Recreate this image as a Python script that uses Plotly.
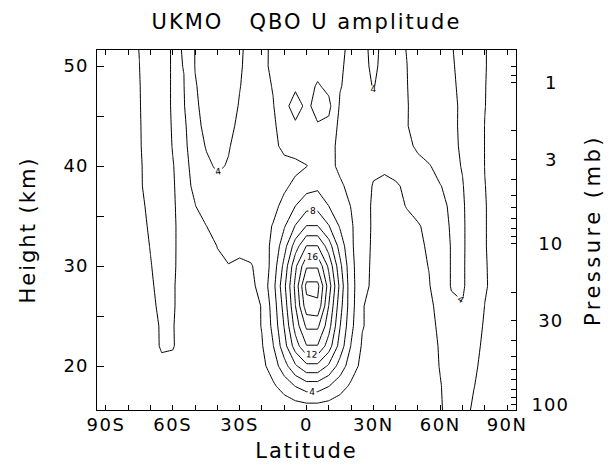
import numpy as np
import plotly.graph_objects as go

# ---------------- data ----------------
lats = [-90, -85, -80, -75, -70, -65, -60, -55, -50, -45, -40, -35, -30, -25, -20, -15, -10, -5,
        0, 5, 10, 15, 20, 25, 30, 35, 40, 45, 50, 55, 60, 65, 70, 75, 80, 85, 90]

# heights (km), listed from top to bottom
heights_top_down = [52, 50, 48, 46, 44, 42, 40, 38, 36, 34, 32, 30, 28, 26, 24, 22, 20, 18, 15.6]

# QBO U amplitude (m/s), one row per height (top to bottom), one column per latitude
amp_top_down = [
    [1.5,1.6,1.75,2.02,2.6,2.6,1.85,2.05,4.05,4.5,4.6,4.6,4.3,3.4,3.6,4.3,4.5,4.6,4.8,5.0,4.7,4.3,3.7,3.5,4.5,3.5,3.6,4.05,4.6,4.6,4.5,4.1,3.4,2.8,2.05,1.7,1.5],
    [1.5,1.6,1.75,1.99,2.6,2.6,1.85,2.02,4.05,4.5,4.6,4.6,4.2,3.4,3.5,4.4,4.6,4.8,5.0,5.3,4.9,4.2,3.6,3.4,4.4,3.4,3.5,3.98,4.6,4.7,4.6,4.2,3.5,2.8,2.05,1.7,1.5],
    [1.5,1.6,1.75,1.95,2.6,2.6,1.85,1.97,3.9,4.5,4.6,4.6,4.05,3.5,3.4,4.1,4.7,5.6,5.3,6.2,5.5,4.1,3.5,3.3,4.1,3.3,3.4,3.95,4.6,4.8,4.7,4.3,3.6,2.8,2.03,1.7,1.5],
    [1.5,1.6,1.75,1.93,2.6,2.6,1.85,1.89,3.7,4.6,4.6,4.6,3.9,3.4,3.3,3.9,5.3,7.0,5.5,6.8,6.5,3.8,3.4,3.2,3.6,3.2,3.3,3.9,4.6,4.8,4.7,4.4,3.7,2.8,2.02,1.7,1.5],
    [1.5,1.6,1.75,1.9,2.6,2.6,1.9,1.65,3.4,4.5,4.6,4.5,3.6,3.3,3.2,3.7,4.8,5.6,5.2,5.8,5.5,3.5,3.3,3.1,3.3,3.1,3.2,3.93,4.5,4.8,4.7,4.5,3.6,2.8,1.98,1.7,1.5],
    [1.5,1.6,1.75,1.88,2.6,2.6,1.95,1.5,3.2,4.1,4.6,4.1,3.5,3.2,3.1,3.5,4.5,4.7,4.8,5.0,4.8,3.4,3.2,3.0,3.0,3.0,3.2,3.6,4.3,4.7,4.7,4.5,3.7,2.8,1.98,1.7,1.5],
    [1.5,1.6,1.75,1.8,2.6,2.6,2.05,1.5,2.6,3.7,4.2,3.9,3.4,3.1,3.1,3.2,3.4,3.6,3.95,4.6,4.7,3.5,3.1,2.9,2.3,2.15,2.3,3.0,3.5,3.9,4.5,4.5,3.9,2.9,1.98,1.7,1.5],
    [1.5,1.6,1.75,1.78,2.6,2.6,2.1,1.5,2.3,3.2,3.6,3.5,3.2,3.0,3.1,3.3,3.7,4.4,5.2,5.6,5.3,4.4,3.3,2.7,1.9,1.8,1.9,2.15,2.8,3.2,3.95,4.4,4.1,2.9,2.02,1.7,1.5],
    [1.5,1.6,1.75,1.7,2.3,2.5,2.15,1.5,1.95,2.8,3.2,3.2,3.0,3.0,3.1,3.5,4.5,6.0,7.3,7.3,6.0,4.8,3.95,2.9,1.7,1.6,1.7,2.05,2.4,2.8,3.5,4.3,4.25,2.9,2.05,1.7,1.5],
    [1.5,1.6,1.75,1.65,2.15,2.5,2.2,1.5,1.5,1.98,2.6,2.8,2.8,2.9,3.3,4.1,5.8,8.1,10.05,10.05,8.1,5.8,4.2,3.0,1.7,1.5,1.5,1.7,1.9,2.3,3.2,4.2,4.3,2.9,2.05,1.7,1.5],
    [1.5,1.6,1.75,1.6,2.04,2.45,2.2,1.5,1.5,1.6,2.02,2.4,2.3,2.5,3.2,4.4,7.2,11.0,14.05,14.05,11.0,7.2,4.3,2.8,1.7,1.5,1.4,1.5,1.7,2.2,3.0,4.1,4.3,2.9,2.05,1.7,1.5],
    [1.5,1.6,1.7,1.6,1.95,2.4,2.15,1.6,1.5,1.5,1.85,1.95,1.8,1.9,2.5,4.8,8.6,13.55,17.7,17.7,13.55,8.6,4.5,2.8,1.6,1.5,1.4,1.5,1.6,2.05,3.0,4.1,4.3,2.8,2.08,1.7,1.5],
    [1.5,1.6,1.7,1.6,1.85,2.35,2.1,1.6,1.4,1.4,1.5,1.5,1.5,1.6,2.6,5.3,9.5,14.5,20.6,20.6,15.0,9.5,4.6,2.8,1.5,1.5,1.4,1.5,1.55,1.9,3.0,4.1,4.3,2.8,2.1,1.7,1.5],
    [1.5,1.55,1.6,1.6,1.75,2.25,2.1,1.6,1.4,1.4,1.4,1.4,1.4,1.2,2.1,4.8,8.8,13.95,19.2,19.6,13.95,8.8,4.8,2.1,1.5,1.5,1.4,1.5,1.5,1.8,2.3,3.7,3.9,2.8,1.98,1.6,1.5],
    [1.5,1.5,1.55,1.6,1.7,2.1,2.05,1.6,1.4,1.4,1.4,1.4,1.3,1.1,2.1,4.5,8.1,12.8,16.4,16.4,12.8,8.1,4.5,2.1,1.5,1.4,1.4,1.5,1.5,1.7,2.2,3.2,3.4,2.6,1.85,1.6,1.4],
    [1.4,1.45,1.5,1.55,1.65,2.1,2.05,1.7,1.4,1.3,1.3,1.3,1.2,1.0,1.85,3.9,7.2,11.0,13.9,13.9,11.0,7.2,3.9,1.8,1.4,1.3,1.3,1.4,1.5,1.6,2.1,2.8,3.0,2.45,1.7,1.5,1.4],
    [1.4,1.4,1.45,1.5,1.6,1.8,1.8,1.6,1.4,1.3,1.3,1.2,1.1,1.0,1.5,2.9,5.2,7.7,9.5,9.5,7.7,5.2,2.9,1.5,1.3,1.2,1.2,1.3,1.4,1.6,2.05,2.6,2.7,2.3,1.5,1.4,1.3],
    [1.3,1.3,1.35,1.4,1.5,1.6,1.6,1.5,1.3,1.2,1.2,1.1,1.0,0.9,1.2,1.7,2.8,4.07,5.0,5.0,4.07,2.8,1.7,1.2,1.1,1.1,1.1,1.2,1.3,1.5,1.95,2.4,2.6,2.05,1.5,1.4,1.3],
    [1.2,1.2,1.25,1.3,1.4,1.5,1.5,1.4,1.2,1.1,1.1,1.0,0.9,0.8,0.5,0.5,0.6,0.7,0.8,0.8,0.7,0.6,0.5,0.6,0.8,1.0,1.0,1.1,1.2,1.4,1.9,2.4,2.5,1.8,1.4,1.3,1.2],
]

lat_tickvals = [-90, -80, -70, -60, -50, -40, -30, -20, -10, 0, 10, 20, 30, 40, 50, 60, 70, 80, 90]
lat_ticktext = ['90S', '', '', '60S', '', '', '30S', '', '', '0', '', '', '30N', '', '', '60N', '', '', '90N']
h_tickvals = [20, 25, 30, 35, 40, 45, 50]
h_ticktext = ['20', '', '30', '', '40', '', '50']
p_ticks = [100, 90, 80, 70, 60, 50, 40, 30, 20, 10, 9, 8, 7, 6, 5, 4, 3, 2, 1, 0.9, 0.8]
p_labels = {100: '100', 30: '30', 10: '10', 3: '3', 1: '1'}
scale_height = 7.0  # km

# ---------------- figure ----------------
heights = heights_top_down[::-1]
amp = amp_top_down[::-1]

FONT = "DejaVu Sans"


def spaced(text, px):
    return '<span style="letter-spacing:%gpx">%s</span>' % (px, text) if text else ''


def centered(text, width):
    pad = '\u00a0' * (width - len(text))
    return spaced(pad + text, 1) if text else ''


fig = go.Figure()

common = dict(x=lats, y=heights, z=amp, showscale=False, hoverinfo='skip',
              line=dict(color='black', width=1, smoothing=0))
fig.add_trace(go.Contour(**common, autocontour=False,
                         contours=dict(start=2, end=18, size=4, coloring='none', showlabels=False)))
fig.add_trace(go.Contour(**common, autocontour=False,
                         contours=dict(start=4, end=16, size=4, coloring='none', showlabels=True,
                                       labelfont=dict(size=9, color='black', family=FONT))))
fig.add_trace(go.Contour(**common, autocontour=False,
                         contours=dict(start=20, end=20.5, size=4, coloring='none', showlabels=False)))

p_heights = [scale_height * np.log(1000.0 / p) for p in p_ticks]
p_text = [centered(p_labels[p], 3) if p in p_labels else '' for p in p_ticks]
fig.add_trace(go.Scatter(x=[0], y=[30], yaxis='y2', mode='markers',
                         marker=dict(opacity=0), hoverinfo='skip', showlegend=False))

yr = [15.6, 51.6]
fig.update_layout(
    width=613, height=471,
    margin=dict(l=97, r=92, t=50, b=61),
    paper_bgcolor='white', plot_bgcolor='white',
    showlegend=False,
    font=dict(family=FONT, size=18, color='black'),
    title=dict(text=spaced('UKMO   QBO U amplitude', 2), x=0.5, xanchor='center',
               y=0.953, yanchor='middle',
               font=dict(size=21, family=FONT, color='black')),
    xaxis=dict(range=[-94, 94], tickmode='array', tickvals=lat_tickvals,
               ticktext=[spaced(t, 1.5) for t in lat_ticktext],
               ticks='inside', ticklen=5, tickwidth=1, tickcolor='black',
               showline=True, linecolor='black', linewidth=1, mirror='ticks',
               showgrid=False, zeroline=False, ticklabelstandoff=-2,
               title=dict(text=spaced('Latitude', 2), standoff=9, font=dict(size=21)),
               tickfont=dict(size=18)),
    yaxis=dict(range=yr, tickmode='array', tickvals=h_tickvals,
               ticktext=[spaced(t, 1) for t in h_ticktext],
               ticks='inside', ticklen=7, tickwidth=1, tickcolor='black',
               showline=True, linecolor='black', linewidth=1, mirror=False,
               showgrid=False, zeroline=False, ticklabelstandoff=4,
               title=dict(text=spaced('Height (km)', 2), standoff=22, font=dict(size=21)),
               tickfont=dict(size=18)),
    yaxis2=dict(range=yr, overlaying='y', side='right', tickmode='array',
                tickvals=p_heights, ticktext=p_text,
                ticks='inside', ticklen=5, tickwidth=1, tickcolor='black',
                showline=True, linecolor='black', linewidth=1,
                showgrid=False, zeroline=False, ticklabelstandoff=11,
                title=dict(text=spaced('Pressure (mb)', 3.5), standoff=17, font=dict(size=21)),
                tickfont=dict(size=18)),
)

fig.write_html("out.html")
